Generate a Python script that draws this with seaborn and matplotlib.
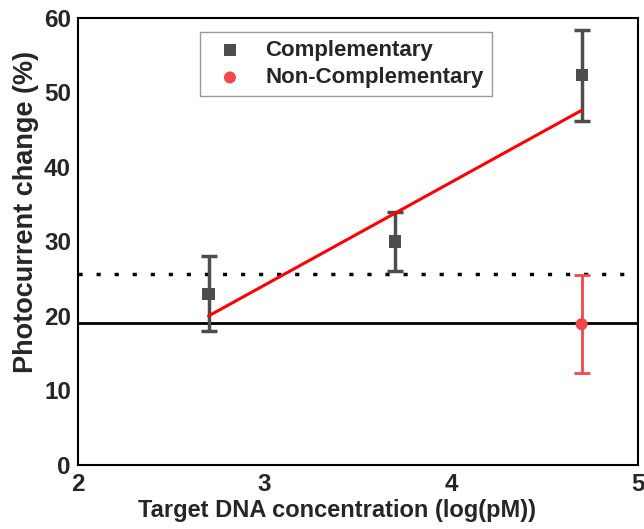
import numpy as np
import pandas as pd
import seaborn as sns
import matplotlib.pyplot as plt

# values
comp_x = [2.7, 3.7, 4.7]
comp_y = [23.0, 30.0, 52.3]
comp_err = [5.0, 4.0, 6.1]

noncomp_x = [4.7]
noncomp_y = [18.9]
noncomp_err = [6.6]

fit_x = [2.7, 4.7]
fit_y = [20.0, 47.6]

baseline = 19.0
threshold = 25.6

sns.set_style("white")
plt.rcParams['font.family'] = ['Liberation Sans', 'DejaVu Sans']
plt.rcParams['font.weight'] = 'bold'

fig, ax = plt.subplots(figsize=(6.44, 5.29), dpi=100)
fig.subplots_adjust(left=0.121, right=0.99, top=0.966, bottom=0.121)

comp = pd.DataFrame({'x': comp_x, 'y': comp_y})
noncomp = pd.DataFrame({'x': noncomp_x, 'y': noncomp_y})

ax.axhline(baseline, color='black', lw=2, zorder=1)
ax.axhline(threshold, color='black', lw=2.5, ls=(0, (1.2, 4)), zorder=1)

ax.errorbar(comp_x, comp_y, yerr=comp_err, fmt='none', ecolor='#4d4d4d',
            elinewidth=2.5, capsize=6, capthick=2.5, zorder=2)
ax.errorbar(noncomp_x, noncomp_y, yerr=noncomp_err, fmt='none', ecolor='#f0484b',
            elinewidth=2, capsize=6, capthick=2, zorder=2)

sns.lineplot(x=fit_x, y=fit_y, color='#ff0000', lw=2.2, ax=ax, zorder=3)

sns.scatterplot(data=comp, x='x', y='y', marker='s', s=75, color='#4d4d4d',
                edgecolor='none', ax=ax, zorder=4, label='Complementary')
sns.scatterplot(data=noncomp, x='x', y='y', marker='o', s=75, color='#f0484b',
                edgecolor='none', ax=ax, zorder=4, label='Non-Complementary')

ax.set_xlim(2, 5)
ax.set_ylim(0, 60)
ax.set_xticks([2, 3, 4, 5])
ax.set_yticks([0, 10, 20, 30, 40, 50, 60])
ax.tick_params(length=0, labelsize=17.5)
ax.tick_params(axis='x', pad=6)
ax.tick_params(axis='y', pad=5)
for lab in ax.get_xticklabels() + ax.get_yticklabels():
    lab.set_fontweight('bold')

ax.set_xlabel('Target DNA concentration (log(pM))', fontsize=17, fontweight='bold')
ax.set_ylabel('Photocurrent change (%)', fontsize=19.5, fontweight='bold')
ax.xaxis.set_label_coords(0.463, -0.077)
ax.yaxis.set_label_coords(-0.07, 0.566)

for sp in ax.spines.values():
    sp.set_color('black')
    sp.set_linewidth(1.5)

leg = ax.legend(loc='upper left', bbox_to_anchor=(0.218, 0.969), borderaxespad=0,
                fontsize=16, frameon=True, fancybox=False, edgecolor='#808080',
                handletextpad=0.6, borderpad=0.35, labelspacing=0.3, markerscale=1.0)
leg.get_frame().set_linewidth(1)
for t in leg.get_texts():
    t.set_fontweight('bold')

fig.savefig('out.png', dpi=100)
